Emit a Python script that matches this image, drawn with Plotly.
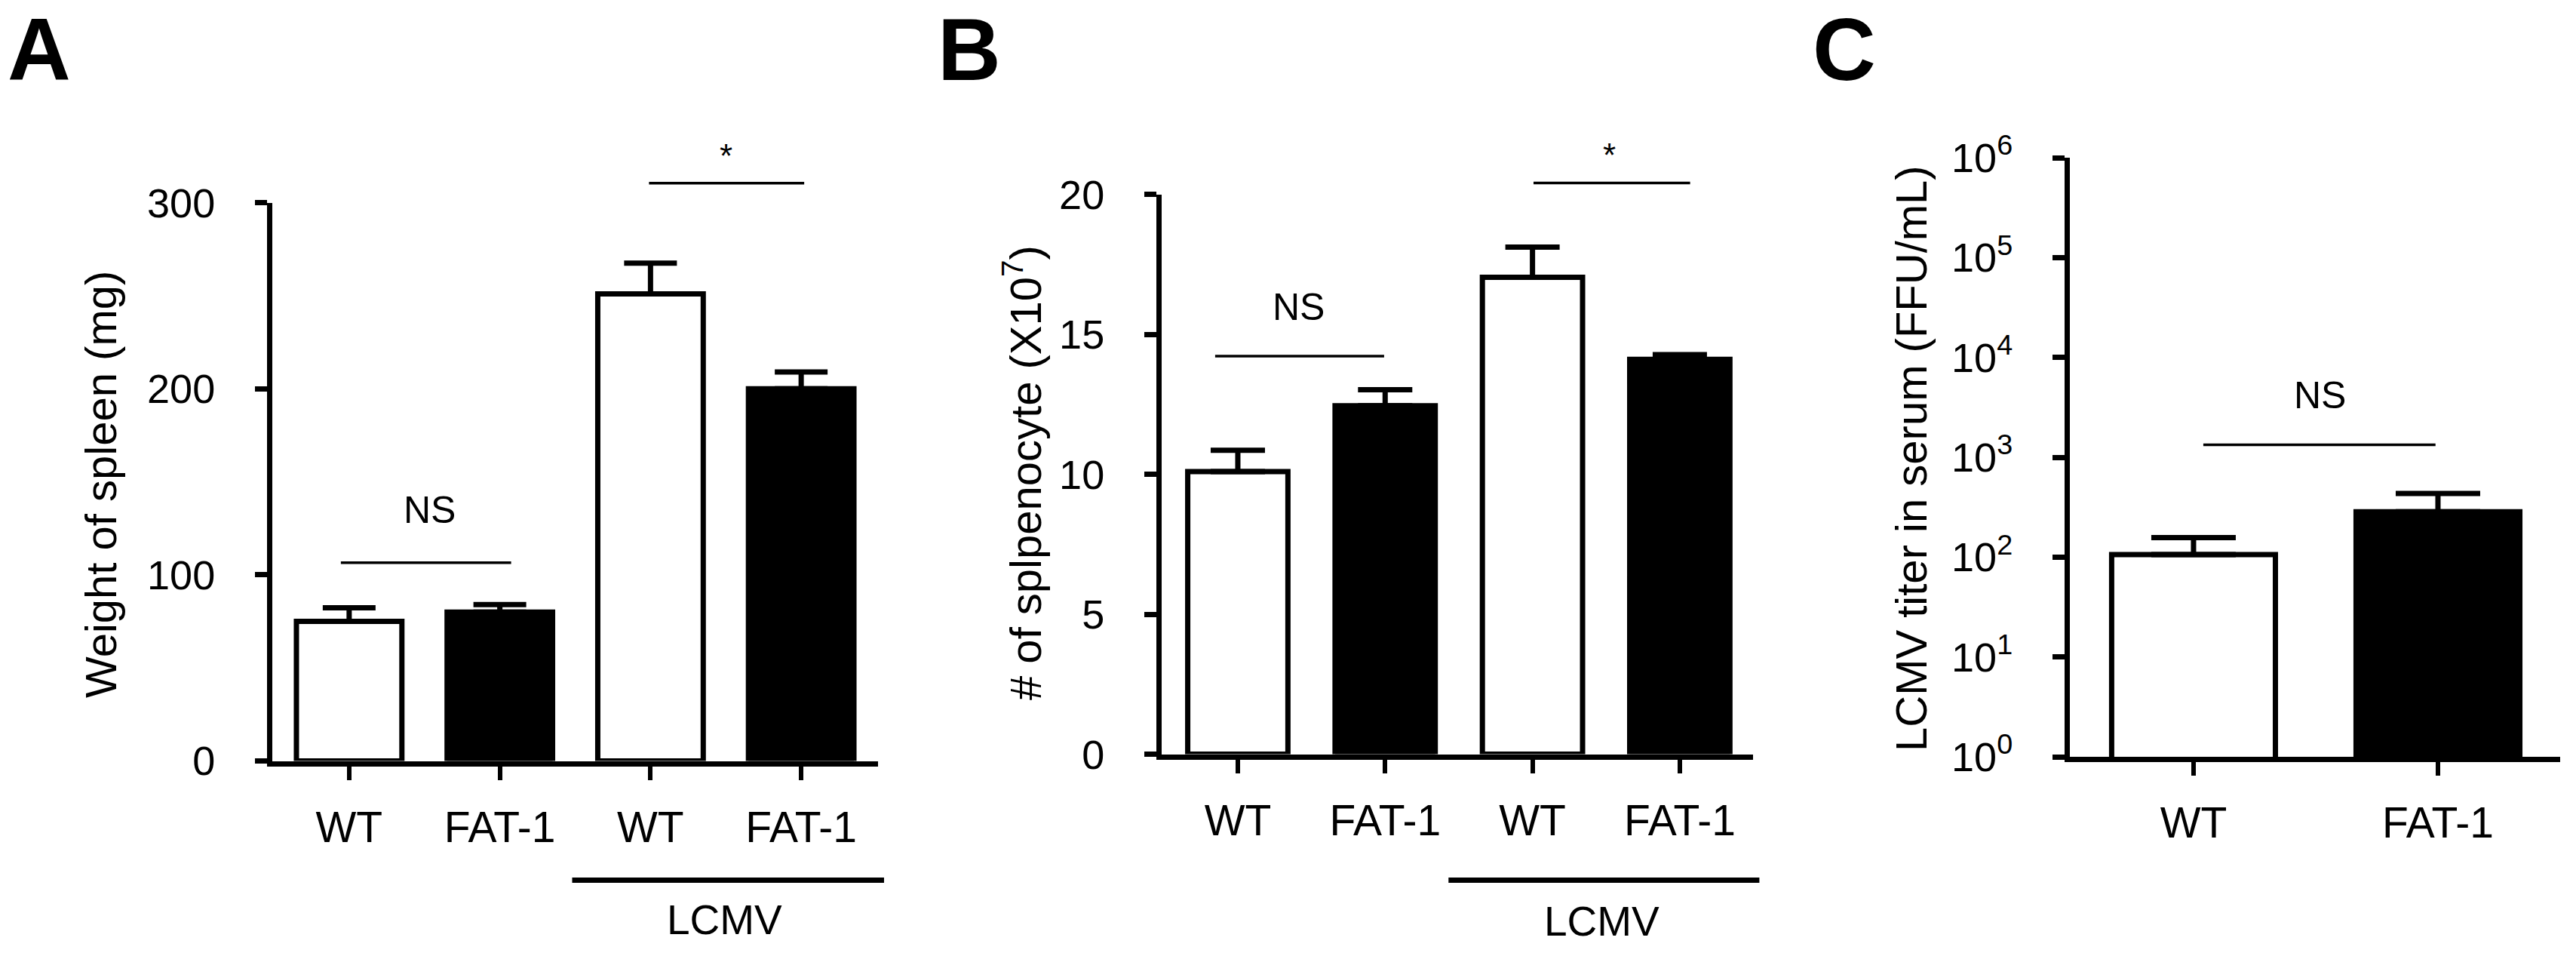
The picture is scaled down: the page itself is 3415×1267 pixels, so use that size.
import math
import plotly.graph_objects as go

W, H = 3415, 1267
FONT = "Liberation Sans, Arial, Helvetica, sans-serif"

# ---------------- data ----------------
a_labels = ["WT", "FAT-1", "WT", "FAT-1"]
a_mean = [75, 80, 251, 200]
a_upper = [82.3, 84, 267.5, 209]

b_labels = ["WT", "FAT-1", "WT", "FAT-1"]
b_mean = [10.1, 12.45, 17.04, 14.11]
b_upper = [10.86, 13.02, 18.12, 14.28]

c_labels = ["WT", "FAT-1"]
c_mean = [106, 284]
c_upper = [157, 433]

fills = ["white", "black", "white", "black"]
a_ticks = [0, 100, 200, 300]
b_ticks = [0, 5, 10, 15, 20]
c_ticks = [1, 10, 100, 1000, 10000, 100000, 1000000]
c_ticktext = ["10<sup>%d</sup>" % i for i in range(7)]

# ---------------- layout geometry (pixels) ----------------
panels = {
    "A": dict(xpx=(361, 1164), xr=(-0.51, 3.51), ypx=(1008.5, 268.6), yr=(0, 300), log=False),
    "B": dict(xpx=(1540, 2324), xr=(-0.517, 3.497), ypx=(999.6, 257.7), yr=(0, 20), log=False),
    "C": dict(xpx=(2744, 3394), xr=(-0.506, 1.5), ypx=(1003, 209), yr=(0, 6), log=True),
}


def xdom(p):
    l, r = panels[p]["xpx"]
    return [l / W, r / W]


def ydom(p):
    b, t = panels[p]["ypx"]
    return [1 - b / H, 1 - t / H]


def xp(p, c):
    d = xdom(p)
    r0, r1 = panels[p]["xr"]
    return d[0] + (c - r0) / (r1 - r0) * (d[1] - d[0])


def yp(p, v):
    d = ydom(p)
    r0, r1 = panels[p]["yr"]
    if panels[p]["log"]:
        v = math.log10(v)
    return d[0] + (v - r0) / (r1 - r0) * (d[1] - d[0])


fig = go.Figure()


def add_bars(means, uppers, axis_id, width, capw):
    n = len(means)
    fig.add_trace(go.Bar(
        x=list(range(n)), y=means,
        width=width,
        marker=dict(color=fills[:n], line=dict(color="black", width=7)),
        error_y=dict(type="data", symmetric=False,
                     array=[u - m for u, m in zip(uppers, means)],
                     arrayminus=[0] * n,
                     color="black", thickness=7, width=capw),
        xaxis="x" + axis_id, yaxis="y" + axis_id,
        showlegend=False, hoverinfo="skip",
    ))


add_bars(a_mean, a_upper, "", 0.70, 35)
add_bars(b_mean, b_upper, "2", 0.68, 36)
add_bars(c_mean, c_upper, "3", 0.67, 56)

tickfont = dict(family=FONT, size=54, color="black")
xtickfont = dict(family=FONT, size=57, color="black")

common_x = dict(showline=True, linewidth=7, linecolor="black", ticks="outside",
                ticklen=18, tickwidth=6, tickcolor="black", showgrid=False,
                zeroline=False, tickfont=xtickfont, ticklabelstandoff=14,
                automargin=False)
common_y = dict(showline=True, linewidth=7, linecolor="black", ticks="outside",
                ticklen=16, tickwidth=7, tickcolor="black", showgrid=False,
                zeroline=False, tickfont=tickfont, ticklabelstandoff=42,
                automargin=False)

fig.update_layout(
    width=W, height=H,
    margin=dict(l=0, r=0, t=0, b=0, pad=0, autoexpand=False),
    paper_bgcolor="white", plot_bgcolor="white",
    bargap=0,
    xaxis=dict(domain=xdom("A"), range=list(panels["A"]["xr"]), anchor="y",
               tickvals=list(range(len(a_labels))), ticktext=a_labels, **common_x),
    yaxis=dict(domain=ydom("A"), range=list(panels["A"]["yr"]), anchor="x",
               tickvals=a_ticks, **common_y),
    xaxis2=dict(domain=xdom("B"), range=list(panels["B"]["xr"]), anchor="y2",
                tickvals=list(range(len(b_labels))), ticktext=b_labels, **common_x),
    yaxis2=dict(domain=ydom("B"), range=list(panels["B"]["yr"]), anchor="x2",
                tickvals=b_ticks, **common_y),
    xaxis3=dict(domain=xdom("C"), range=list(panels["C"]["xr"]), anchor="y3",
                tickvals=list(range(len(c_labels))), ticktext=c_labels, **common_x),
    yaxis3=dict(domain=ydom("C"), range=list(panels["C"]["yr"]), anchor="x3", type="log",
                tickvals=c_ticks, ticktext=c_ticktext, **common_y),
)

ann = []
shapes = []


def text(x, y, s, size, bold=False, angle=0, yanchor="middle"):
    ann.append(dict(x=x, y=y, xref="paper", yref="paper", text=("<b>%s</b>" % s) if bold else s,
                    showarrow=False, xanchor="center", yanchor=yanchor, textangle=angle,
                    borderpad=0, font=dict(family=FONT, size=size, color="black")))


def hline(x0, x1, y, w):
    shapes.append(dict(type="line", xref="paper", yref="paper", x0=x0, x1=x1, y0=y, y1=y,
                       line=dict(color="black", width=w)))


# panel letters
for letter, cx in (("A", 52), ("B", 1285), ("C", 2445)):
    text(cx / W, 1.0, letter, 116, bold=True, yanchor="top")

# y-axis titles
text(133 / W, 1 - 642 / H, "Weight of spleen (mg)", 58, angle=-90)
text(1355 / W, 1 - 627 / H, "# of splpenocyte (X10<sup>7</sup>)", 58, angle=-90)
text(2533 / W, 1 - 608 / H, "LCMV titer in serum (FFU/mL)", 58, angle=-90)

# significance marks
hline(xp("A", -0.055), xp("A", 1.075), yp("A", 106.5), 3.5)
text(xp("A", 0.535), yp("A", 135), "NS", 50)
hline(xp("A", 1.99), xp("A", 3.02), yp("A", 310.5), 3.5)
text(xp("A", 2.5), yp("A", 325), "*", 44)

hline(xp("B", -0.154), xp("B", 0.993), yp("B", 14.22), 3.5)
text(xp("B", 0.41), yp("B", 15.97), "NS", 50)
hline(xp("B", 2.007), xp("B", 3.07), yp("B", 20.41), 3.5)
text(xp("B", 2.52), yp("B", 21.4), "*", 44)

hline(xp("C", 0.04), xp("C", 0.99), yp("C", 10 ** 3.124), 3.5)
text(xp("C", 0.518), yp("C", 10 ** 3.62), "NS", 50)

# LCMV grouping bars
hline(xp("A", 1.48), xp("A", 3.55), 1 - 1166.5 / H, 7)
text(xp("A", 2.49), 1 - 1219 / H, "LCMV", 55)
hline(xp("B", 1.43), xp("B", 3.54), 1 - 1166.5 / H, 7)
text(xp("B", 2.47), 1 - 1221 / H, "LCMV", 55)

fig.update_layout(annotations=ann, shapes=shapes)
fig.write_html("out.html",
               config={"displayModeBar": False, "staticPlot": True},
               post_script="document.body.style.margin='0px';document.body.style.overflow='hidden';")
